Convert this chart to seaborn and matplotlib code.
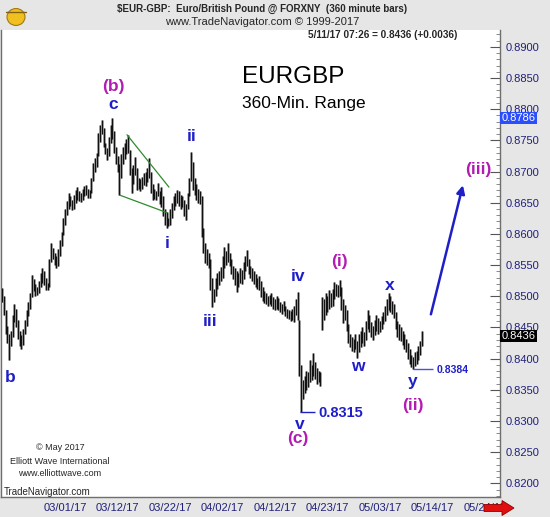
import matplotlib
matplotlib.use("Agg")
import matplotlib.pyplot as plt
from matplotlib.patches import FancyArrow, Circle
from matplotlib.ticker import MultipleLocator, FixedLocator
import seaborn as sns

# 360-minute bars, EUR/GBP, mid Feb .. 11 May 2017
highs = [0.8513, 0.8500, 0.8478, 0.8452, 0.8440, 0.8445, 0.8470, 0.8488, 0.8480, 0.8462,
         0.8445, 0.8438, 0.8448, 0.8462, 0.8478, 0.8490, 0.8505, 0.8534, 0.8528, 0.8520,
         0.8515, 0.8525, 0.8538, 0.8545, 0.8540, 0.8530, 0.8522, 0.8560, 0.8585, 0.8578,
         0.8570, 0.8565, 0.8575, 0.8590, 0.8603, 0.8625, 0.8640, 0.8652, 0.8666, 0.8660,
         0.8655, 0.8662, 0.8670, 0.8675, 0.8668, 0.8665, 0.8672, 0.8676, 0.8678, 0.8672,
         0.8670, 0.8690, 0.8714, 0.8722, 0.8730, 0.8762, 0.8775, 0.8783, 0.8770, 0.8745,
         0.8738, 0.8755, 0.8775, 0.8786, 0.8765, 0.8740, 0.8725, 0.8712, 0.8728, 0.8739,
         0.8745, 0.8752, 0.8759, 0.8735, 0.8705, 0.8710, 0.8723, 0.8705, 0.8690, 0.8688,
         0.8691, 0.8698, 0.8700, 0.8706, 0.8722, 0.8700, 0.8680, 0.8672, 0.8668, 0.8682,
         0.8668, 0.8675, 0.8660, 0.8640, 0.8635, 0.8625, 0.8640, 0.8650, 0.8660, 0.8665,
         0.8670, 0.8668, 0.8662, 0.8660, 0.8655, 0.8648, 0.8665, 0.8690, 0.8731, 0.8715,
         0.8690, 0.8680, 0.8672, 0.8668, 0.8660, 0.8610, 0.8585, 0.8575, 0.8570, 0.8560,
         0.8530, 0.8512, 0.8530, 0.8537, 0.8540, 0.8547, 0.8565, 0.8579, 0.8572, 0.8585,
         0.8570, 0.8560, 0.8548, 0.8545, 0.8540, 0.8538, 0.8545, 0.8542, 0.8555, 0.8565,
         0.8574, 0.8560, 0.8548, 0.8545, 0.8540, 0.8535, 0.8530, 0.8532, 0.8525, 0.8515,
         0.8508, 0.8505, 0.8500, 0.8502, 0.8505, 0.8498, 0.8495, 0.8500, 0.8497, 0.8490,
         0.8488, 0.8492, 0.8485, 0.8480, 0.8478, 0.8476, 0.8480, 0.8485, 0.8495, 0.8507,
         0.8462, 0.8390, 0.8365, 0.8372, 0.8380, 0.8378, 0.8398, 0.8390, 0.8409, 0.8395,
         0.8385, 0.8380, 0.8378, 0.8499, 0.8495, 0.8505, 0.8500, 0.8510, 0.8505, 0.8512,
         0.8523, 0.8520, 0.8518, 0.8526, 0.8515, 0.8495, 0.8486, 0.8478, 0.8455, 0.8440,
         0.8435, 0.8432, 0.8440, 0.8428, 0.8440, 0.8445, 0.8450, 0.8442, 0.8460, 0.8478,
         0.8470, 0.8458, 0.8452, 0.8462, 0.8470, 0.8465, 0.8460, 0.8468, 0.8475, 0.8485,
         0.8495, 0.8505, 0.8500, 0.8492, 0.8488, 0.8475, 0.8460, 0.8455, 0.8450, 0.8445,
         0.8440, 0.8432, 0.8425, 0.8415, 0.8405, 0.8402, 0.8410, 0.8412, 0.8420, 0.8428,
         0.8445]
lows = [0.8491, 0.8470, 0.8440, 0.8425, 0.8398, 0.8420, 0.8435, 0.8458, 0.8450, 0.8432,
        0.8420, 0.8415, 0.8422, 0.8440, 0.8452, 0.8468, 0.8480, 0.8498, 0.8508, 0.8500,
        0.8502, 0.8505, 0.8515, 0.8522, 0.8518, 0.8510, 0.8510, 0.8515, 0.8555, 0.8560,
        0.8550, 0.8545, 0.8548, 0.8565, 0.8580, 0.8598, 0.8615, 0.8630, 0.8640, 0.8645,
        0.8638, 0.8640, 0.8650, 0.8655, 0.8652, 0.8651, 0.8655, 0.8660, 0.8662, 0.8658,
        0.8658, 0.8665, 0.8685, 0.8700, 0.8708, 0.8725, 0.8748, 0.8760, 0.8740, 0.8728,
        0.8719, 0.8725, 0.8745, 0.8752, 0.8730, 0.8712, 0.8700, 0.8662, 0.8690, 0.8712,
        0.8720, 0.8728, 0.8730, 0.8695, 0.8666, 0.8680, 0.8695, 0.8670, 0.8672, 0.8668,
        0.8672, 0.8678, 0.8676, 0.8684, 0.8690, 0.8665, 0.8654, 0.8656, 0.8655, 0.8660,
        0.8648, 0.8643, 0.8628, 0.8615, 0.8609, 0.8612, 0.8615, 0.8625, 0.8638, 0.8645,
        0.8650, 0.8645, 0.8640, 0.8643, 0.8628, 0.8622, 0.8640, 0.8660, 0.8685, 0.8670,
        0.8662, 0.8655, 0.8650, 0.8648, 0.8595, 0.8570, 0.8553, 0.8550, 0.8545, 0.8510,
        0.8483, 0.8490, 0.8500, 0.8512, 0.8518, 0.8525, 0.8530, 0.8545, 0.8550, 0.8555,
        0.8548, 0.8535, 0.8528, 0.8518, 0.8507, 0.8515, 0.8522, 0.8520, 0.8528, 0.8540,
        0.8548, 0.8535, 0.8530, 0.8525, 0.8520, 0.8515, 0.8512, 0.8510, 0.8498, 0.8492,
        0.8489, 0.8488, 0.8485, 0.8487, 0.8485, 0.8480, 0.8478, 0.8480, 0.8478, 0.8475,
        0.8472, 0.8476, 0.8468, 0.8465, 0.8463, 0.8460, 0.8462, 0.8458, 0.8470, 0.8462,
        0.8372, 0.8315, 0.8335, 0.8345, 0.8350, 0.8355, 0.8362, 0.8365, 0.8372, 0.8368,
        0.8360, 0.8362, 0.8356, 0.8446, 0.8462, 0.8470, 0.8475, 0.8480, 0.8482, 0.8485,
        0.8495, 0.8500, 0.8498, 0.8500, 0.8478, 0.8457, 0.8462, 0.8445, 0.8425, 0.8418,
        0.8412, 0.8410, 0.8415, 0.8401, 0.8410, 0.8418, 0.8425, 0.8420, 0.8430, 0.8448,
        0.8442, 0.8435, 0.8430, 0.8438, 0.8445, 0.8440, 0.8442, 0.8448, 0.8455, 0.8460,
        0.8470, 0.8478, 0.8475, 0.8472, 0.8465, 0.8448, 0.8435, 0.8430, 0.8428, 0.8422,
        0.8415, 0.8410, 0.8400, 0.8392, 0.8386, 0.8384, 0.8388, 0.8392, 0.8398, 0.8405,
        0.8420]
date_labels = ["03/01/17", "03/12/17", "03/22/17", "04/02/17", "04/12/17",
               "04/23/17", "05/03/17", "05/14/17", "05/24/17"]
date_bars = [36, 66, 96, 126, 156, 186, 216, 246, 276]
last_price = 0.8436
high_price = 0.8786

BLUE = "#1f1fc8"
MAG = "#b21cb2"
NAVY = "#20207a"
BG = "#e6e6e6"

sns.set_theme(style="white")
plt.rcParams["font.family"] = ["Liberation Sans", "DejaVu Sans"]

fig = plt.figure(figsize=(5.5, 5.17), dpi=100, facecolor=BG)
ax = fig.add_axes([1 / 550, 20 / 517, 499 / 550, 467 / 517])
ax.set_facecolor("white")

xs = list(range(len(highs)))
ax.vlines(xs, lows, highs, color="#9a9a9a", lw=2.0, zorder=2)
ax.vlines(xs, lows, highs, color="#111111", lw=0.8, zorder=3)

ax.set_xlim(-0.6, 284.6)
ax.set_ylim(0.8178, 0.8927)

# axes look
ax.yaxis.tick_right()
ax.yaxis.set_major_locator(MultipleLocator(0.005))
ax.yaxis.set_minor_locator(MultipleLocator(0.001))
ax.yaxis.set_major_formatter(matplotlib.ticker.FormatStrFormatter("%.4f"))
ax.tick_params(axis="y", which="major", direction="in", length=7, width=0.8,
               color="#555555", labelsize=8, labelcolor=NAVY, pad=4)
ax.tick_params(axis="y", which="minor", direction="in", length=3, width=0.6,
               color="#777777", right=True)
ax.xaxis.set_major_locator(FixedLocator(date_bars))
ax.set_xticklabels(date_labels)
ax.tick_params(axis="x", length=0, labelsize=8, labelcolor=NAVY, pad=4)
for side in ["left", "bottom", "right"]:
    ax.spines[side].set_color("#6e6e6e")
    ax.spines[side].set_linewidth(1.0)
ax.spines["top"].set_visible(False)

# wedge lines
ax.plot([71.4, 95.4], [0.8759, 0.8675], color="#2e8b2e", lw=0.9, zorder=4)
ax.plot([67.4, 94.3], [0.8662, 0.8634], color="#2e8b2e", lw=0.9, zorder=4)

# wave labels
waves = [("b", 4.6, 0.8370, BLUE), ("(b)", 63.4, 0.8836, MAG), ("c", 63.4, 0.8808, BLUE),
         ("i", 94.3, 0.8585, BLUE), ("ii", 108.6, 0.8756, BLUE), ("iii", 118.9, 0.8459, BLUE),
         ("iv", 169.1, 0.8531, BLUE), ("v", 170.3, 0.8295, BLUE), ("(c)", 169.1, 0.8272, MAG),
         ("(i)", 193.1, 0.8555, MAG), ("w", 203.4, 0.8388, BLUE), ("x", 221.7, 0.8518, BLUE),
         ("y", 234.9, 0.8364, BLUE), ("(ii)", 234.9, 0.8325, MAG), ("(iii)", 272.0, 0.8703, MAG)]
for lab, xi, yi, col in waves:
    ax.text(xi, yi, lab, color=col, fontsize=12.5, fontweight="bold",
            ha="center", va="center", zorder=6)

# low markers
ax.hlines(0.8315, 170.3, 179.0, color=BLUE, lw=1.0, zorder=5)
ax.text(180.6, 0.8313, "0.8315", color=BLUE, fontsize=10.5, fontweight="bold",
        ha="left", va="center")
ax.hlines(0.8384, 234.9, 246.3, color="#5050d8", lw=1.0, zorder=5)
ax.text(248.5, 0.8381, "0.8384", color=BLUE, fontsize=7.5, fontweight="bold",
        ha="left", va="center")

# projected wave (iii)
ax.annotate("", xy=(263.4, 0.8678), xytext=(245.1, 0.8471),
            arrowprops=dict(arrowstyle="-|>", color=BLUE, lw=1.8,
                            mutation_scale=12, shrinkA=0, shrinkB=0), zorder=6)

# title texts
ax.text(0.585, 0.899, "EURGBP", transform=ax.transAxes, fontsize=17.5,
        ha="center", va="center", color="black")
ax.text(0.607, 0.842, "360-Min. Range", transform=ax.transAxes, fontsize=12.5,
        ha="center", va="center", color="black")

# price boxes on the axis
trans = matplotlib.transforms.blended_transform_factory(ax.transAxes, ax.transData)
ax.text(1.003, high_price, "0.8786", transform=trans, fontsize=8, color="white",
        ha="left", va="center", zorder=20,
        bbox=dict(boxstyle="square,pad=0.12", fc="#2a4dff", ec="none"))
ax.text(1.003, last_price, "0.8436", transform=trans, fontsize=8, color="white",
        ha="left", va="center", zorder=20,
        bbox=dict(boxstyle="square,pad=0.12", fc="black", ec="none"))

# header
fig.text(262 / 550, 1 - 9 / 517, "$EUR-GBP:  Euro/British Pound @ FORXNY  (360 minute bars)",
         fontsize=7, fontweight="bold", ha="center", va="center")
fig.text(262 / 550, 1 - 22 / 517, "www.TradeNavigator.com \u00a9 1999-2017",
         fontsize=8, ha="center", va="center")
fig.text(457 / 550, 1 - 35 / 517, "5/11/17 07:26 = 0.8436 (+0.0036)",
         fontsize=7.2, fontweight="bold", ha="right", va="center")

# little gold logo, top left
fig.patches.append(Circle((16 / 550, 1 - 17 / 517), 9 / 550, transform=fig.transFigure,
                          fc="#f0c020", ec="#a07810", lw=0.8, figure=fig))
fig.lines.append(matplotlib.lines.Line2D([6 / 550, 26 / 550], [1 - 12 / 517, 1 - 12 / 517],
                                         transform=fig.transFigure, color="#806010", lw=1.0))

# credits
fig.text(60 / 550, 1 - 448 / 517, "\u00a9 May 2017", fontsize=6.5, ha="center", va="center")
fig.text(60 / 550, 1 - 461 / 517, "Elliott Wave International", fontsize=6.5,
         ha="center", va="center")
fig.text(60 / 550, 1 - 474 / 517, "www.elliottwave.com", fontsize=6.5,
         ha="center", va="center")
fig.text(4 / 550, 1 - 492 / 517, "TradeNavigator.com", fontsize=7, ha="left", va="center")

# red scroll arrow
fig.patches.append(FancyArrow(484 / 550, 1 - 508 / 517, 30 / 550, 0, width=7 / 517,
                              head_width=15 / 517, head_length=12 / 550,
                              length_includes_head=True, fc="#e01010", ec="#900000",
                              lw=0.6, transform=fig.transFigure, figure=fig, zorder=10))

fig.savefig("out.png", dpi=100, facecolor=BG)
